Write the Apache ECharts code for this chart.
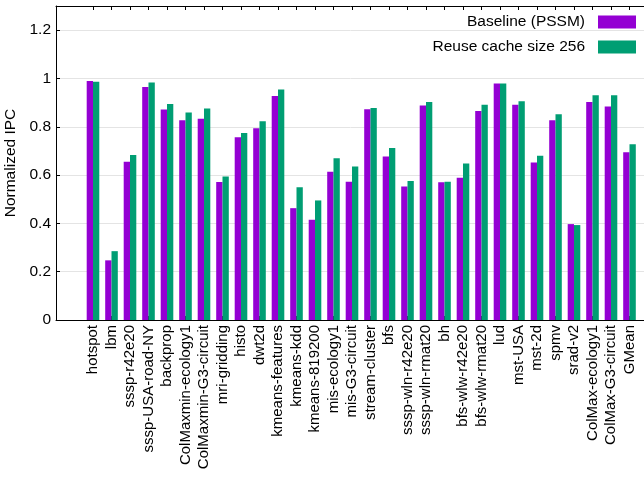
<!DOCTYPE html>
<html>
<head>
<meta charset="utf-8">
<script src="https://cdn.jsdelivr.net/npm/echarts@6/dist/echarts.min.js"></script>
<style>
html,body{margin:0;padding:0;background:#fff;}
#chart{width:644px;height:482px;}
</style>
</head>
<body>
<div id="chart"></div>
<script>
const categories = ["hotspot","lbm","sssp-r42e20","sssp-USA-road-NY","backprop","ColMaxmin-ecology1","ColMaxmin-G3-circuit","mri-gridding","histo","dwt2d","kmeans-features","kmeans-kdd","kmeans-819200","mis-ecology1","mis-G3-circuit","stream-cluster","bfs","sssp-wln-r42e20","sssp-wln-rmat20","bh","bfs-wlw-r42e20","bfs-wlw-rmat20","lud","mst-USA","mst-2d","spmv","srad-v2","ColMax-ecology1","ColMax-G3-circuit","GMean"];
const baseline = [0.990,0.247,0.655,0.965,0.872,0.827,0.833,0.571,0.757,0.794,0.927,0.463,0.415,0.614,0.572,0.873,0.677,0.553,0.888,0.570,0.589,0.865,0.979,0.891,0.652,0.827,0.397,0.903,0.884,0.694];
const reuse = [0.986,0.285,0.683,0.983,0.894,0.859,0.876,0.594,0.774,0.823,0.954,0.550,0.495,0.670,0.636,0.878,0.712,0.575,0.903,0.572,0.648,0.891,0.979,0.906,0.680,0.852,0.393,0.930,0.930,0.728];
const yTicks = [0,0.2,0.4,0.6,0.8,1,1.2];
const seriesNames = ["Baseline (PSSM)","Reuse cache size 256"];
const colors = ["#9400d3","#009e73"];

const idx = categories.map((c,i)=>i);
const FONT = "'Liberation Sans', Arial, Helvetica, sans-serif";
const chart = echarts.init(document.getElementById('chart'), null, {renderer:'canvas'});
const lineStyle = {color:'#000', width:1};
chart.setOption({
  animation:false,
  textStyle:{fontFamily:FONT},
  grid:{left:56, top:6, width:592, height:314, containLabel:false, outerBoundsMode:'none'},
  legend:{
    orient:'vertical', right:3, top:9, align:'right',
    itemWidth:38, itemHeight:13, itemGap:9,
    icon:'rect',
    textStyle:{fontSize:15.5, color:'#000', fontFamily:FONT, padding:[0,8,0,0]},
    data:seriesNames
  },
  xAxis:[
    {type:'value', position:'bottom', min:-2, max:30,
     axisLine:{show:true, onZero:false, lineStyle},
     axisTick:{show:true, inside:true, length:4, customValues:idx, lineStyle},
     axisLabel:{show:true, customValues:idx, rotate:90, margin:5, fontSize:15, color:'#000', fontFamily:FONT,
       formatter:(v)=>categories[Math.round(v)] || ''},
     splitLine:{show:false}},
    {type:'value', position:'top', min:-2, max:30,
     axisLine:{show:true, onZero:false, lineStyle},
     axisTick:{show:true, inside:true, length:4, customValues:idx, lineStyle},
     axisLabel:{show:false},
     splitLine:{show:false}}
  ],
  yAxis:{
    type:'value', min:0, max:1.3, interval:0.2,
    name:'Normalized IPC', nameLocation:'middle', nameGap:33, nameRotate:90,
    nameTextStyle:{fontSize:15.5, color:'#000', fontFamily:FONT},
    axisLine:{show:true, onZero:false, lineStyle},
    axisTick:{show:true, inside:true, length:4, customValues:yTicks, lineStyle},
    axisLabel:{customValues:yTicks, margin:5, fontSize:15.5, color:'#000', fontFamily:FONT,
      formatter:(v)=>String(Math.round(v*10)/10)},
    splitLine:{show:true, lineStyle:{color:'#e4e4e4', width:1}}
  },
  series:[
    {name:seriesNames[0], type:'bar', xAxisIndex:0, barWidth:6.3, barGap:'0%',
     itemStyle:{color:colors[0]}, data:baseline.map((v,i)=>[i,v])},
    {name:seriesNames[1], type:'bar', xAxisIndex:0, barWidth:6.3, barGap:'0%',
     itemStyle:{color:colors[1]}, data:reuse.map((v,i)=>[i,v])}
  ]
});
</script>
</body>
</html>
